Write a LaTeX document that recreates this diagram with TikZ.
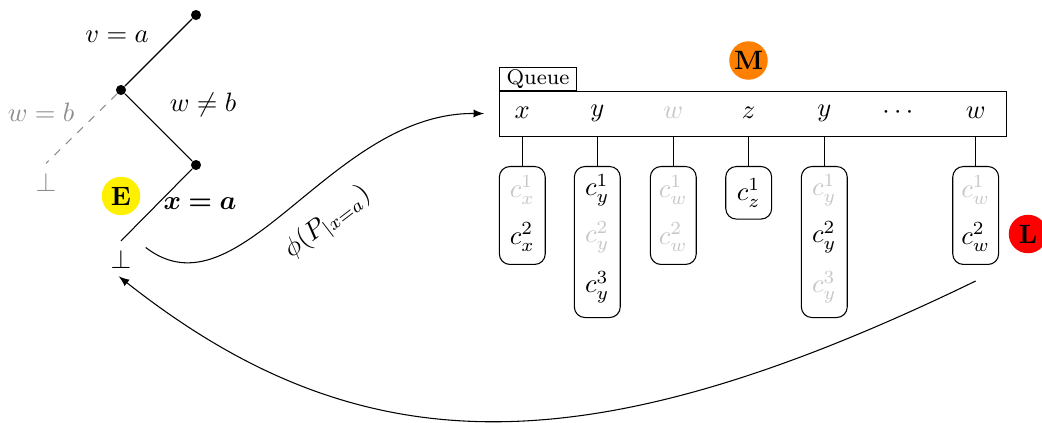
\documentclass[tikz,border=0pt]{standalone}
\usepackage{amsmath}
\usepackage{bm}
\definecolor{ltgray}{gray}{0.78}
\definecolor{mdgray}{gray}{0.55}
\definecolor{badgeorange}{RGB}{255,128,0}
\definecolor{badgeyellow}{RGB}{255,240,0}
\begin{document}
\begin{tikzpicture}[x=0.3768pt,y=-0.3768pt,
  dot/.style={circle,fill=black,inner sep=0pt,minimum size=3.8pt},
  badge/.style={circle,inner sep=0pt,minimum size=14.5pt,font=\bfseries},
  listbox/.style={draw,rounded corners=4pt,minimum width=17.3pt,anchor=north,inner sep=0pt},
  entry/.style={inner sep=1pt},
  faint/.style={text=ltgray},
  qitem/.style={inner sep=2pt}]
\useasboundingbox (0,0) rectangle (1042,423);
% tree
\node[dot] (t1) at (196,15) {};
\node[dot] (t2) at (121,90) {};
\node[dot] (t3) at (196,165) {};
\node (b1) at (121,259.5) {$\bot$};
\node[text=mdgray] (b2) at (46,182) {$\bot$};
\draw (t1) -- (t2) -- (t3) -- (b1.north);
\draw[mdgray,dashed] (t2) -- (b2.north);
\node (l1) at (117,37) {$v=a$};
\node (l2) at (203,105) {$w\neq b$};
\node[text=mdgray] (l3) at (41,112) {$w=b$};
\node (l4) at (200,204) {$\bm{x=a}$};
\node[badge,fill=badgeyellow] (E) at (121,196) {E};
% queue
\node[draw,anchor=north west,minimum width=191pt,minimum height=16.96pt,inner sep=0pt] (queue) at (499,90.7) {};
\node[draw,anchor=south west,minimum width=29pt,minimum height=8.67pt,inner sep=0pt,font=\footnotesize] (qtag) at (499,90.7) {Queue};
\node[qitem] (qx) at (522.3,113) {$x$};
\node[qitem] (qy) at (597.3,113) {$y$};
\node[qitem,faint] (qw) at (673.3,113) {$w$};
\node[qitem] (qz) at (748.7,113) {$z$};
\node[qitem] (qy2) at (824.3,113) {$y$};
\node[qitem] (qd) at (900,113) {$\cdots$};
\node[qitem] (qw2) at (975.7,113) {$w$};
\node[badge,fill=badgeorange] (M) at (748.5,60.5) {M};
% lists
\node[listbox,minimum height=36.9pt] (lx) at (522.3,166) {};
\node[listbox,minimum height=56.9pt] (ly) at (597.3,166) {};
\node[listbox,minimum height=36.9pt] (lw) at (673.3,166) {};
\node[listbox,minimum height=19.8pt] (lz) at (748.7,166) {};
\node[listbox,minimum height=56.9pt] (ly2) at (824.3,166) {};
\node[listbox,minimum height=36.9pt] (lw2) at (975.7,166) {};
\foreach \a in {x,y,w,z,y2,w2} {
  \draw (queue.south -| l\a.north) -- (l\a.north);
}
\node[entry,faint] (cx1) at (522.3,190) {$c^1_x$};
\node[entry] (cx2) at (522.3,237) {$c^2_x$};
\node[entry] (cy1) at (597.3,190) {$c^1_y$};
\node[entry,faint] (cy2) at (597.3,237) {$c^2_y$};
\node[entry] (cy3) at (597.3,287) {$c^3_y$};
\node[entry,faint] (cw1) at (673.3,190) {$c^1_w$};
\node[entry,faint] (cw2) at (673.3,237) {$c^2_w$};
\node[entry] (cz1) at (748.7,193) {$c^1_z$};
\node[entry,faint] (cy21) at (824.3,190) {$c^1_y$};
\node[entry] (cy22) at (824.3,237) {$c^2_y$};
\node[entry,faint] (cy23) at (824.3,287) {$c^3_y$};
\node[entry,faint] (cw21) at (975.7,190) {$c^1_w$};
\node[entry] (cw22) at (975.7,237) {$c^2_w$};
\node[badge,fill=red] (L) at (1028,234) {L};
% connectors
\draw[-latex,shorten >=5.6pt] ([shift={(5,-12)}]b1.east) .. controls (240,320) and (330,112) .. (queue.west)
  node[pos=0.54,sloped,below=3.5pt] (phi) {$\phi(P_{|x=a})$};
\draw[-latex,shorten >=-1.1pt] ([shift={(0,16)}]lw2.south) .. controls (584,471) and (359,466) .. (b1.south);
\end{tikzpicture}
\end{document}
